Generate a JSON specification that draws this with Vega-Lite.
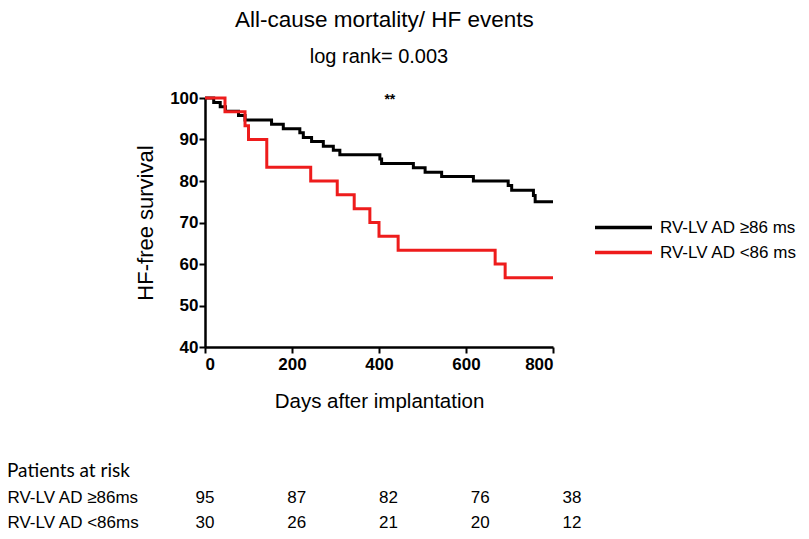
{
  "$schema": "https://vega.github.io/schema/vega-lite/v6.json",
  "padding": {"left": 7, "top": 8, "right": 5, "bottom": 5},
  "autosize": {"type": "pad"},
  "background": "white",
  "config": {
    "view": {"stroke": null},
    "font": "Liberation Sans",
    "axis": {
      "grid": false,
      "domainColor": "black",
      "domainWidth": 2.5,
      "tickColor": "black",
      "tickWidth": 2,
      "tickSize": 6,
      "labelColor": "black",
      "labelFont": "Liberation Sans",
      "labelFontSize": 17,
      "labelFontWeight": "bold",
      "titleColor": "black",
      "titleFont": "Liberation Sans",
      "titleFontSize": 20.5,
      "titleFontWeight": "normal"
    }
  },
  "datasets": {
    "km": [
      {"group": "RV-LV AD ≥86 ms", "t": 0, "s": 100},
      {"group": "RV-LV AD ≥86 ms", "t": 20, "s": 98.9},
      {"group": "RV-LV AD ≥86 ms", "t": 35, "s": 97.9},
      {"group": "RV-LV AD ≥86 ms", "t": 47, "s": 96.8},
      {"group": "RV-LV AD ≥86 ms", "t": 77, "s": 95.8},
      {"group": "RV-LV AD ≥86 ms", "t": 92, "s": 94.7},
      {"group": "RV-LV AD ≥86 ms", "t": 153, "s": 93.7},
      {"group": "RV-LV AD ≥86 ms", "t": 180, "s": 92.6},
      {"group": "RV-LV AD ≥86 ms", "t": 218, "s": 91.6},
      {"group": "RV-LV AD ≥86 ms", "t": 226, "s": 90.5},
      {"group": "RV-LV AD ≥86 ms", "t": 245, "s": 89.5},
      {"group": "RV-LV AD ≥86 ms", "t": 272, "s": 88.4},
      {"group": "RV-LV AD ≥86 ms", "t": 295, "s": 87.4},
      {"group": "RV-LV AD ≥86 ms", "t": 310, "s": 86.3},
      {"group": "RV-LV AD ≥86 ms", "t": 402, "s": 85.3},
      {"group": "RV-LV AD ≥86 ms", "t": 406, "s": 84.2},
      {"group": "RV-LV AD ≥86 ms", "t": 479, "s": 83.2},
      {"group": "RV-LV AD ≥86 ms", "t": 506, "s": 82.1},
      {"group": "RV-LV AD ≥86 ms", "t": 544, "s": 81.1},
      {"group": "RV-LV AD ≥86 ms", "t": 617, "s": 80.0},
      {"group": "RV-LV AD ≥86 ms", "t": 697, "s": 78.9},
      {"group": "RV-LV AD ≥86 ms", "t": 705, "s": 77.8},
      {"group": "RV-LV AD ≥86 ms", "t": 755, "s": 76.5},
      {"group": "RV-LV AD ≥86 ms", "t": 759, "s": 75.0},
      {"group": "RV-LV AD ≥86 ms", "t": 800, "s": 75.0},
      {"group": "RV-LV AD <86 ms", "t": 0, "s": 100},
      {"group": "RV-LV AD <86 ms", "t": 46, "s": 96.67},
      {"group": "RV-LV AD <86 ms", "t": 92, "s": 93.33},
      {"group": "RV-LV AD <86 ms", "t": 100, "s": 90.0},
      {"group": "RV-LV AD <86 ms", "t": 142, "s": 83.33},
      {"group": "RV-LV AD <86 ms", "t": 243, "s": 80.0},
      {"group": "RV-LV AD <86 ms", "t": 304, "s": 76.67},
      {"group": "RV-LV AD <86 ms", "t": 343, "s": 73.33},
      {"group": "RV-LV AD <86 ms", "t": 379, "s": 70.0},
      {"group": "RV-LV AD <86 ms", "t": 400, "s": 66.67},
      {"group": "RV-LV AD <86 ms", "t": 444, "s": 63.33},
      {"group": "RV-LV AD <86 ms", "t": 667, "s": 60.0},
      {"group": "RV-LV AD <86 ms", "t": 690, "s": 56.67},
      {"group": "RV-LV AD <86 ms", "t": 800, "s": 56.67}
    ],
    "risk": [
      {"row": "RV-LV AD ≥86ms", "t": 0, "n": 95},
      {"row": "RV-LV AD ≥86ms", "t": 200, "n": 87},
      {"row": "RV-LV AD ≥86ms", "t": 400, "n": 82},
      {"row": "RV-LV AD ≥86ms", "t": 600, "n": 76},
      {"row": "RV-LV AD ≥86ms", "t": 800, "n": 38},
      {"row": "RV-LV AD <86ms", "t": 0, "n": 30},
      {"row": "RV-LV AD <86ms", "t": 200, "n": 26},
      {"row": "RV-LV AD <86ms", "t": 400, "n": 21},
      {"row": "RV-LV AD <86ms", "t": 600, "n": 20},
      {"row": "RV-LV AD <86ms", "t": 800, "n": 12}
    ],
    "sig": [{"t": 425, "s": 99.4, "label": "**"}]
  },
  "title": {
    "text": "All-cause mortality/ HF events",
    "anchor": "start",
    "frame": "bounds",
    "dx": 228,
    "fontSize": 22.5,
    "fontWeight": "normal",
    "font": "Liberation Sans",
    "color": "black",
    "offset": 16
  },
  "bounds": "flush",
  "spacing": 138,
  "vconcat": [
    {
      "width": 348,
      "height": 249,
      "title": {
        "text": "log rank= 0.003",
        "anchor": "middle",
        "frame": "group",
        "fontSize": 20,
        "fontWeight": "normal",
        "font": "Liberation Sans",
        "color": "black",
        "offset": 22
      },
      "layer": [
        {
          "data": {"name": "km"},
          "mark": {"type": "line", "interpolate": "step-after", "strokeWidth": 3, "strokeJoin": "miter", "strokeCap": "butt"},
          "encoding": {
            "x": {
              "field": "t", "type": "quantitative",
              "scale": {"domain": [0, 800], "nice": false, "zero": false},
              "axis": {"values": [0, 200, 400, 600, 800], "title": "Days after implantation", "labelPadding": 3, "titlePadding": 19}
            },
            "y": {
              "field": "s", "type": "quantitative",
              "scale": {"domain": [40, 100], "nice": false, "zero": false},
              "axis": {"values": [40, 50, 60, 70, 80, 90, 100], "title": "HF-free survival", "titleFontSize": 22, "labelPadding": 1, "titlePadding": 12}
            },
            "color": {
              "field": "group", "type": "nominal",
              "scale": {"domain": ["RV-LV AD ≥86 ms", "RV-LV AD <86 ms"], "range": ["#000000", "#ee1c1c"]},
              "legend": {
                "title": null,
                "orient": "none",
                "legendX": 407,
                "legendY": 118,
                "symbolType": "M-3,0H3",
                "symbolSize": 361,
                "symbolStrokeWidth": 3.5,
                "labelFontSize": 17,
                "labelFont": "Liberation Sans",
                "labelColor": "black",
                "labelOffset": 25,
                "rowPadding": 5
              }
            }
          }
        },
        {
          "data": {"name": "sig"},
          "mark": {"type": "text", "fontSize": 14, "fontWeight": "bold", "baseline": "middle", "align": "center", "color": "black"},
          "encoding": {
            "x": {"field": "t", "type": "quantitative"},
            "y": {"field": "s", "type": "quantitative"},
            "text": {"field": "label"}
          }
        }
      ]
    },
    {
      "width": 367,
      "height": 50,
      "data": {"name": "risk"},
      "title": {
        "text": "Patients at risk",
        "anchor": "start",
        "frame": "bounds",
        "fontSize": 19,
        "fontWeight": "normal",
        "font": "Lato",
        "color": "black",
        "offset": 4
      },
      "mark": {"type": "text", "fontSize": 17, "font": "Liberation Sans", "baseline": "middle", "align": "center", "color": "black"},
      "encoding": {
        "x": {"field": "t", "type": "quantitative", "scale": {"domain": [0, 800], "nice": false}, "axis": null},
        "y": {
          "field": "row", "type": "nominal",
          "sort": ["RV-LV AD ≥86ms", "RV-LV AD <86ms"],
          "axis": {"title": null, "domain": false, "ticks": false, "tickSize": 0, "labelAlign": "left", "labelPadding": 198, "labelFontWeight": "normal", "labelFontSize": 17}
        },
        "text": {"field": "n", "type": "quantitative"}
      }
    }
  ]
}
